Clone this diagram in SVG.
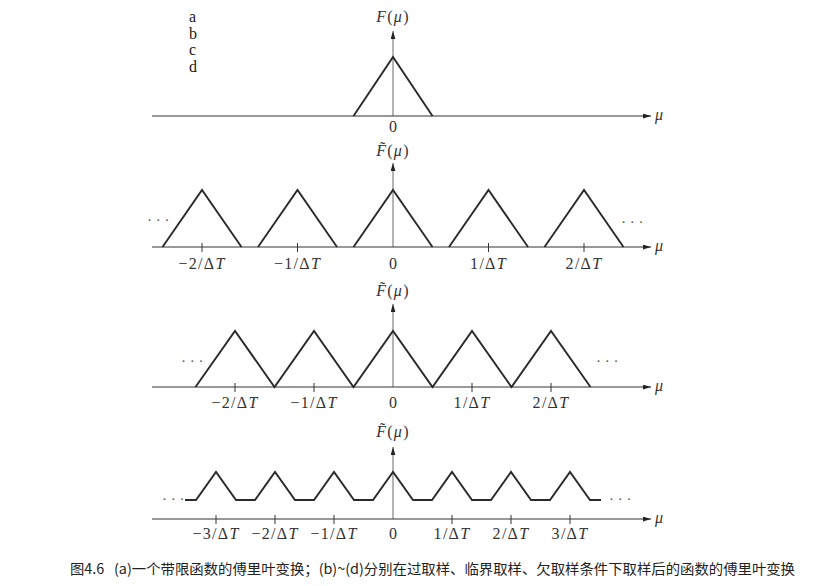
<svg xmlns="http://www.w3.org/2000/svg" width="814" height="586" viewBox="0 0 814 586">
<style>
  .bg{fill:#ffffff}
  .ax{stroke:#333;stroke-width:1;fill:none}
  .vax{stroke:#444;stroke-width:0.8;fill:none}
  .tk{stroke:#333;stroke-width:1}
  .cv{stroke:#2a2a2a;stroke-width:1.9;fill:none;stroke-linejoin:miter}
  .t{font-family:"Liberation Serif","DejaVu Serif",serif;font-size:16px;fill:#333}
  .tl{letter-spacing:1.3px}
  .m{text-anchor:middle}
  .it{font-style:italic}
  .lab{font-family:"Liberation Serif","DejaVu Serif",serif;font-size:16px;font-weight:normal;fill:#1a1a1a}
  .dots{font-family:"Liberation Serif",serif;font-size:15px;fill:#555}
  .cap{font-family:"Noto Sans CJK SC","Noto Sans CJK JP",sans-serif;font-size:14px;fill:#222}
</style>
<defs>
  <marker id="ah" viewBox="0 0 10 6" refX="10" refY="3" markerWidth="8" markerHeight="5" orient="auto" markerUnits="userSpaceOnUse">
    <path d="M0,0 L10,3 L0,6 z" fill="#222"/>
  </marker>
</defs>
<rect class="bg" x="0" y="0" width="814" height="586"/>

<g id="panel-labels">
  <text class="lab" x="189" y="22">a</text>
  <text class="lab" x="189" y="38.5">b</text>
  <text class="lab" x="189" y="55">c</text>
  <text class="lab" x="189" y="71.5">d</text>
</g>

<!-- Panel a -->
<g id="panel-a">
  <g id="axes-a">
    <line class="ax" x1="152" y1="116" x2="651" y2="116" marker-end="url(#ah)"/>
    <line class="vax" x1="393" y1="116" x2="393" y2="31" marker-end="url(#ah)"/>
  </g>
  <polyline class="cv" points="353.5,116 393,57 432.5,116"/>
  <text class="t m tl" x="393" y="22"><tspan class="it">F</tspan>(<tspan class="it">μ</tspan>)</text>
  <text class="t it" x="655" y="120">μ</text>
  <text class="t m" x="393" y="132">0</text>
</g>

<!-- Panel b -->
<g id="panel-b">
  <g id="axes-b">
    <line class="ax" x1="152" y1="247" x2="651" y2="247" marker-end="url(#ah)"/>
    <line class="vax" x1="393" y1="247" x2="393" y2="163" marker-end="url(#ah)"/>
    <line class="tk" x1="202" y1="243" x2="202" y2="252"/>
    <line class="tk" x1="297.5" y1="243" x2="297.5" y2="252"/>
    <line class="tk" x1="488.5" y1="243" x2="488.5" y2="252"/>
    <line class="tk" x1="584" y1="243" x2="584" y2="252"/>
  </g>
  <polyline class="cv" points="162.5,247 202,190 241.5,247"/>
  <polyline class="cv" points="258,247 297.5,190 337,247"/>
  <polyline class="cv" points="353.5,247 393,190 432.5,247"/>
  <polyline class="cv" points="449,247 488.5,190 528,247"/>
  <polyline class="cv" points="544.5,247 584,190 623.5,247"/>
  <text class="t m tl" x="393" y="156"><tspan class="it">F̃</tspan>(<tspan class="it">μ</tspan>)</text>
  <text class="t it" x="655" y="251">μ</text>
  <text class="dots" x="147" y="225">· · ·</text>
  <text class="dots" x="621" y="227">· · ·</text>
  <text class="t m tl" x="202" y="269">−2/Δ<tspan class="it">T</tspan></text>
  <text class="t m tl" x="297.5" y="269">−1/Δ<tspan class="it">T</tspan></text>
  <text class="t m" x="393" y="269">0</text>
  <text class="t m tl" x="488.5" y="269">1/Δ<tspan class="it">T</tspan></text>
  <text class="t m tl" x="584" y="269">2/Δ<tspan class="it">T</tspan></text>
</g>

<!-- Panel c -->
<g id="panel-c">
  <g id="axes-c">
    <line class="ax" x1="152" y1="387" x2="651" y2="387" marker-end="url(#ah)"/>
    <line class="vax" x1="393" y1="387" x2="393" y2="304" marker-end="url(#ah)"/>
    <line class="tk" x1="235" y1="383" x2="235" y2="392"/>
    <line class="tk" x1="314" y1="383" x2="314" y2="392"/>
    <line class="tk" x1="472" y1="383" x2="472" y2="392"/>
    <line class="tk" x1="551" y1="383" x2="551" y2="392"/>
  </g>
  <polyline class="cv" points="195.5,387 235,331 274.5,387 314,331 353.5,387 393,331 432.5,387 472,331 511.5,387 551,331 590.5,387"/>
  <text class="t m tl" x="393" y="296"><tspan class="it">F̃</tspan>(<tspan class="it">μ</tspan>)</text>
  <text class="t it" x="655" y="391">μ</text>
  <text class="dots" x="181" y="366">· · ·</text>
  <text class="dots" x="596" y="366">· · ·</text>
  <text class="t m tl" x="235" y="408">−2/Δ<tspan class="it">T</tspan></text>
  <text class="t m tl" x="314" y="408">−1/Δ<tspan class="it">T</tspan></text>
  <text class="t m" x="393" y="408">0</text>
  <text class="t m tl" x="472" y="408">1/Δ<tspan class="it">T</tspan></text>
  <text class="t m tl" x="551" y="408">2/Δ<tspan class="it">T</tspan></text>
</g>

<!-- Panel d -->
<g id="panel-d">
  <g id="axes-d">
    <line class="ax" x1="152" y1="519" x2="651" y2="519" marker-end="url(#ah)"/>
    <line class="vax" x1="393" y1="519" x2="393" y2="447" marker-end="url(#ah)"/>
    <line class="tk" x1="216" y1="515" x2="216" y2="524"/>
    <line class="tk" x1="275" y1="515" x2="275" y2="524"/>
    <line class="tk" x1="334" y1="515" x2="334" y2="524"/>
    <line class="tk" x1="452" y1="515" x2="452" y2="524"/>
    <line class="tk" x1="511" y1="515" x2="511" y2="524"/>
    <line class="tk" x1="570" y1="515" x2="570" y2="524"/>
  </g>
  <polyline class="cv" points="185,500 196,500 216,472 236,500 255,500 275,472 295,500 314,500 334,472 354,500 373,500 393,472 413,500 432,500 452,472 472,500 491,500 511,472 531,500 550,500 570,472 590,500 601,500"/>
  <text class="t m tl" x="393" y="437"><tspan class="it">F̃</tspan>(<tspan class="it">μ</tspan>)</text>
  <text class="t it" x="655" y="523">μ</text>
  <text class="dots" x="162" y="504">· · ·</text>
  <text class="dots" x="609" y="504">· · ·</text>
  <text class="t m tl" x="216" y="539">−3/Δ<tspan class="it">T</tspan></text>
  <text class="t m tl" x="275" y="539">−2/Δ<tspan class="it">T</tspan></text>
  <text class="t m tl" x="334" y="539">−1/Δ<tspan class="it">T</tspan></text>
  <text class="t m" x="393" y="539">0</text>
  <text class="t m tl" x="452" y="539">1/Δ<tspan class="it">T</tspan></text>
  <text class="t m tl" x="511" y="539">2/Δ<tspan class="it">T</tspan></text>
  <text class="t m tl" x="570" y="539">3/Δ<tspan class="it">T</tspan></text>
</g>

<g id="caption">
  <text class="cap" x="70" y="574" textLength="725" lengthAdjust="spacingAndGlyphs" xml:space="preserve">图4.6   (a)一个带限函数的傅里叶变换；(b)~(d)分别在过取样、临界取样、欠取样条件下取样后的函数的傅里叶变换</text>
</g>
</svg>
